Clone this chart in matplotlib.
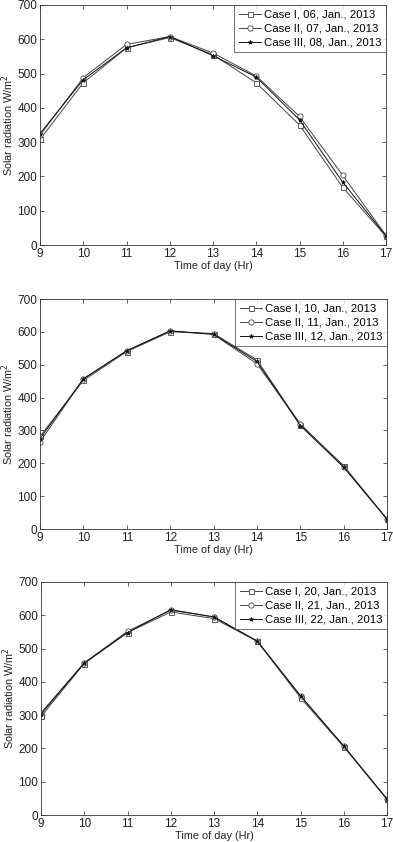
import matplotlib
matplotlib.use("Agg")
import matplotlib.pyplot as plt

plt.rcParams['font.family'] = ['Liberation Sans', 'DejaVu Sans']

hours = [9, 10, 11, 12, 13, 14, 15, 16, 17]

p1_labels = ["Case I, 06, Jan., 2013", "Case II, 07, Jan., 2013", "Case III, 08, Jan., 2013"]
p1_case1 = [308, 473, 575, 605, 555, 473, 350, 168, 25]
p1_case2 = [320, 488, 585, 608, 560, 493, 375, 203, 28]
p1_case3 = [325, 482, 575, 608, 552, 490, 365, 183, 27]

p2_labels = ["Case I, 10, Jan., 2013", "Case II, 11, Jan., 2013", "Case III, 12, Jan., 2013"]
p2_case1 = [282, 452, 540, 600, 595, 515, 318, 193, 30]
p2_case2 = [265, 457, 542, 603, 592, 503, 320, 190, 30]
p2_case3 = [275, 457, 543, 603, 593, 510, 315, 188, 30]

p3_labels = ["Case I, 20, Jan., 2013", "Case II, 21, Jan., 2013", "Case III, 22, Jan., 2013"]
p3_case1 = [296, 455, 548, 610, 590, 522, 352, 205, 47]
p3_case2 = [307, 457, 552, 615, 595, 523, 358, 207, 48]
p3_case3 = [303, 457, 548, 617, 595, 522, 358, 207, 48]

yticks = [0, 100, 200, 300, 400, 500, 600, 700]
xlabel = "Time of day (Hr)"
ylabel = "Solar radiation W/m$^2$"

panels = [
    (p1_labels, p1_case1, p1_case2, p1_case3),
    (p2_labels, p2_case1, p2_case2, p2_case3),
    (p3_labels, p3_case1, p3_case2, p3_case3),
]

W, H = 393, 842
fig = plt.figure(figsize=(W / 100, H / 100), dpi=100)
# axes boxes in pixels: (left, top, right, bottom)
boxes = [(40, 5, 386, 245), (40, 299, 387, 529), (41, 582, 387, 815)]

styles = [
    dict(color='#444444', marker='s', markersize=3.6, markerfacecolor='white', markeredgecolor='#444444', markeredgewidth=0.6),
    dict(color='#444444', marker='o', markersize=3.8, markerfacecolor='white', markeredgecolor='#444444', markeredgewidth=0.6),
    dict(color='#111111', marker='*', markersize=3.2, markerfacecolor='#111111', markeredgecolor='#111111', markeredgewidth=0.5),
]

for (labels, c1, c2, c3), (l, t, r, b) in zip(panels, boxes):
    ax = fig.add_axes([l / W, 1 - b / H, (r - l) / W, (b - t) / H])
    for vals, lab, st in zip((c1, c2, c3), labels, styles):
        ax.plot(hours, vals, linewidth=0.7, label=lab, **st)
    ax.set_xlim(9, 17)
    ax.set_ylim(0, 700)
    ax.set_xticks(hours)
    ax.set_yticks(yticks)
    ax.tick_params(direction='in', top=True, right=True, labelsize=8.5, length=3, width=0.5,
                   colors='#222222', pad=2)
    for s in ax.spines.values():
        s.set_linewidth(0.6)
        s.set_color('#333333')
    ax.set_xlabel(xlabel, fontsize=7.8, labelpad=1, color='#222222')
    ax.set_ylabel(ylabel, fontsize=7.8, labelpad=1, color='#222222')
    leg = ax.legend(loc='upper right', fontsize=8.2, borderaxespad=0, frameon=True, fancybox=False,
                    handlelength=1.9, handletextpad=0.3, borderpad=0.4, labelspacing=0.35)
    leg.get_frame().set_edgecolor('#333333')
    leg.get_frame().set_linewidth(0.6)

fig.savefig("out.png", dpi=100)
